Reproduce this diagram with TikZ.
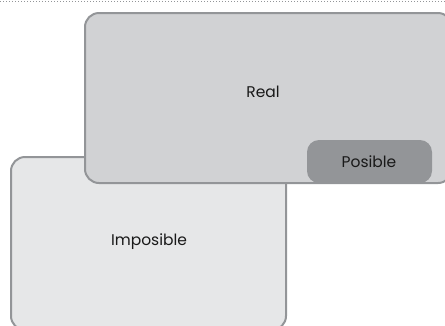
\documentclass[tikz,border=0pt]{standalone}
\usepackage{fontspec}
\setmainfont{Poppins}
\definecolor{edgegray}{HTML}{939598}
\definecolor{realfill}{HTML}{D1D2D4}
\definecolor{impfill}{HTML}{E6E7E8}
\begin{document}
\begin{tikzpicture}[x=1pt,y=-1pt,
  region/.style={draw=edgegray, line width=2pt, rounded corners=14pt},
  label/.style={font=\fontsize{15.5pt}{17pt}\selectfont, text=black!90}]
\useasboundingbox (0,0) rectangle (445,325);
% dotted rule along the top
\draw[edgegray, line width=1.4pt, dash pattern=on 1.2pt off 1.8pt] (0,1.2) -- (445,1.2);
% impossible region (behind)
\draw[region, fill=impfill] (11,157) rectangle (286,330);
\node[label] (imp) at (149,242) {Imposible};
% real region (in front)
\draw[region, fill=realfill] (85,13) rectangle (452,183);
\node[label] (real) at (263,92) {Real};
% possible sub-region
\fill[edgegray, rounded corners=12pt] (307,140) rectangle (432,183);
\node[label] (pos) at (369,162) {Posible};
\end{tikzpicture}
\end{document}
